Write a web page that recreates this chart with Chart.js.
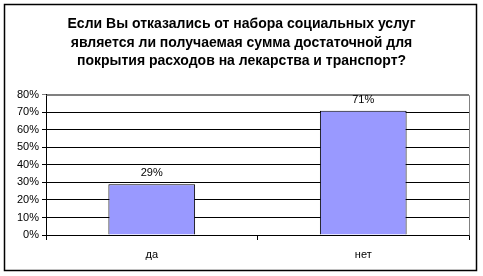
<!DOCTYPE html>
<html>
<head>
<meta charset="utf-8">
<style>
  html, body { margin: 0; padding: 0; background: #fff; }
  #wrap { width: 483px; height: 276px; }
</style>
<script src="https://cdn.jsdelivr.net/npm/chart.js@4/dist/chart.umd.min.js"></script>
</head>
<body>
<div id="wrap"><canvas id="answersChart" width="483" height="276"></canvas></div>
<script>
const titleLines = [
    'Если Вы отказались от набора социальных услуг',
    'является ли получаемая сумма достаточной для',
    'покрытия расходов на лекарства и транспорт?'
]
const categories = ['да', 'нет']
const shares = [29, 71]
const yTicks = [0, 10, 20, 30, 40, 50, 60, 70, 80]

const fontFamily = 'Arial, "Liberation Sans", sans-serif'

// frame around the whole picture + gray plot border on top/right
const framePlugin = {
    id: 'frame',
    beforeDraw(chart) {
        const ctx = chart.ctx
        ctx.save()
        ctx.fillStyle = '#fff'
        ctx.fillRect(0, 0, chart.width, chart.height)
        ctx.restore()
    },
    beforeDatasetsDraw(chart) {
        const {ctx, chartArea} = chart
        ctx.save()
        ctx.strokeStyle = '#808080'
        ctx.lineWidth = 1
        ctx.beginPath()
        ctx.moveTo(Math.round(chartArea.left) + 0.5, Math.round(chartArea.top) + 0.5)
        ctx.lineTo(Math.round(chartArea.right) + 0.5, Math.round(chartArea.top) + 0.5)
        ctx.lineTo(Math.round(chartArea.right) + 0.5, Math.round(chartArea.bottom) + 0.5)
        ctx.stroke()
        ctx.restore()
    },
    afterDraw(chart) {
        const ctx = chart.ctx
        ctx.save()
        ctx.strokeStyle = '#000'
        ctx.lineWidth = 1.5
        ctx.strokeRect(4.5, 4.5, 472, 266)
        ctx.restore()
    }
}

// value labels above each bar
const valueLabels = {
    id: 'valueLabels',
    afterDatasetsDraw(chart) {
        const ctx = chart.ctx
        const meta = chart.getDatasetMeta(0)
        ctx.save()
        ctx.font = '11px ' + fontFamily
        ctx.fillStyle = '#000'
        ctx.textAlign = 'center'
        ctx.textBaseline = 'middle'
        meta.data.forEach((bar, i) => {
            ctx.fillText(shares[i] + '%', bar.x, bar.y - 11)
        })
        ctx.restore()
    }
}

const answersChart = new Chart(document.getElementById('answersChart').getContext('2d'), {
    type: 'bar',
    data: {
        labels: categories,
        datasets: [{
            data: shares,
            backgroundColor: '#9999FF',
            borderColor: '#000',
            borderWidth: 1,
            barPercentage: 0.41,
            categoryPercentage: 1
        }]
    },
    options: {
        responsive: false,
        animation: false,
        layout: {
            padding: {top: 15, left: 14, right: 14, bottom: 0}
        },
        scales: {
            x: {
                offset: true,
                afterFit: scale => { scale.height = 41 },
                grid: {
                    offset: true,
                    drawOnChartArea: false,
                    color: '#000',
                    tickLength: 5
                },
                border: {color: '#000'},
                ticks: {
                    color: '#000',
                    padding: 8,
                    font: {family: fontFamily, size: 11}
                }
            },
            y: {
                min: 0,
                max: 80,
                afterFit: scale => { scale.width = 32 },
                afterBuildTicks: scale => {
                    scale.ticks = yTicks.map(value => ({value}))
                },
                grid: {
                    color: ctx => ctx.tick && ctx.tick.value === 80 ? '#808080' : '#000',
                    tickLength: 4
                },
                border: {color: '#000'},
                ticks: {
                    color: '#000',
                    padding: 3,
                    font: {family: fontFamily, size: 11},
                    callback: value => value + '%'
                }
            }
        },
        plugins: {
            legend: {display: false},
            tooltip: {enabled: false},
            title: {
                display: true,
                text: titleLines,
                color: '#000',
                font: {family: fontFamily, size: 14, weight: 'bold', lineHeight: 1.33},
                padding: {top: 0, bottom: 24}
            }
        }
    },
    plugins: [framePlugin, valueLabels]
})
</script>
</body>
</html>
